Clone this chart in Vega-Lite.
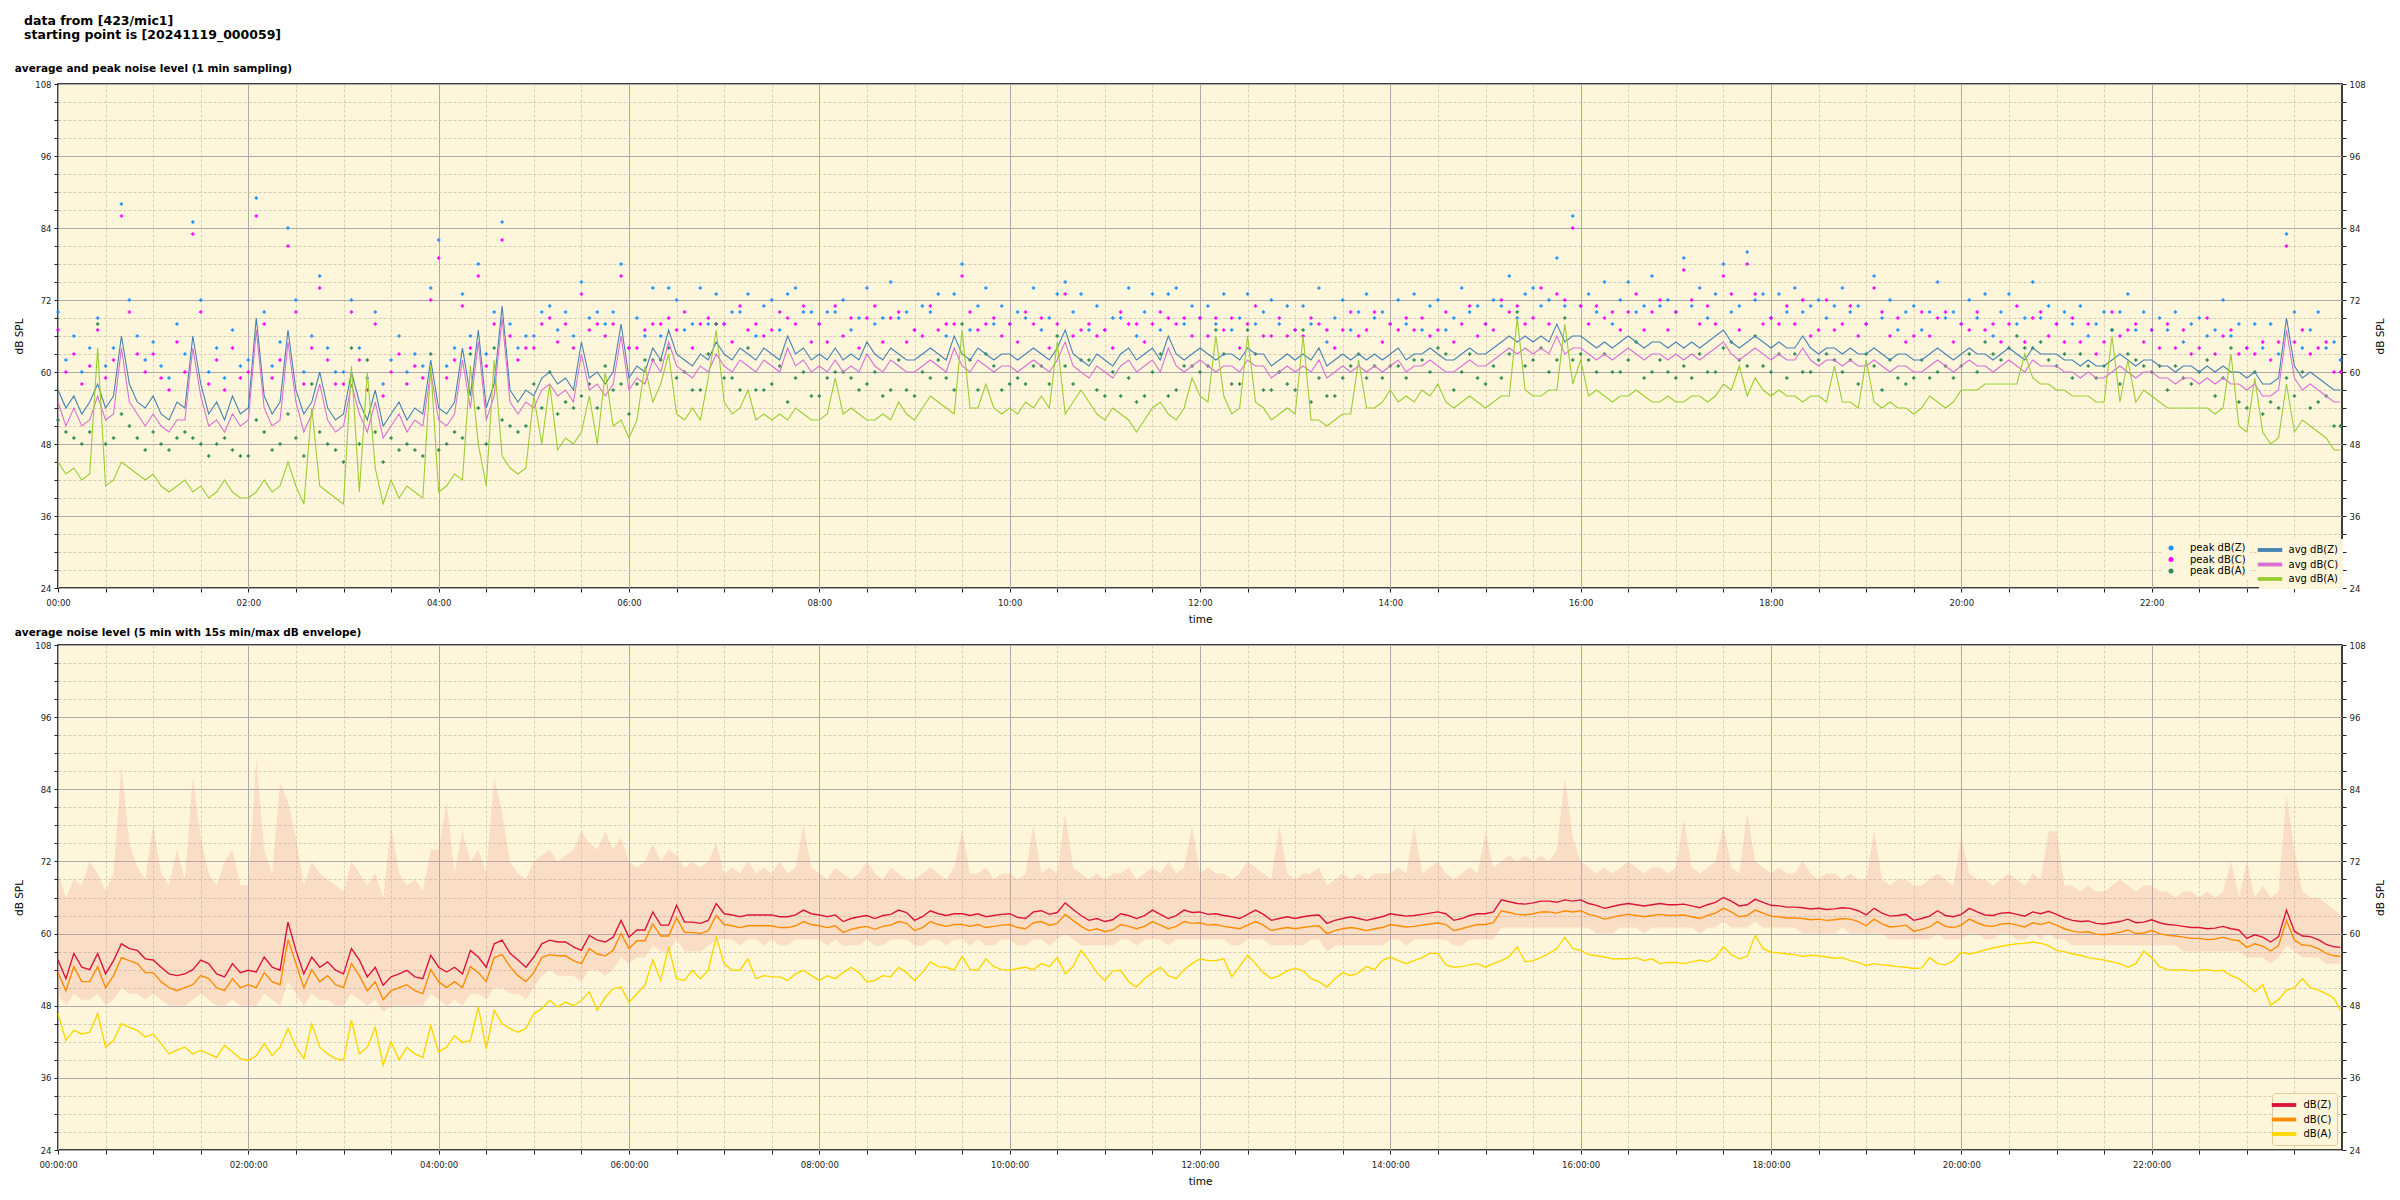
{
"$schema":"https://vega.github.io/schema/vega-lite/v6.json",
"padding":{"left":14,"top":14,"right":4,"bottom":2},
"background":"white",
"title":{"text":["data from [423/mic1]","starting point is [20241119_000059]"],"anchor":"start","frame":"bounds","dx":10,"font":"DejaVu Sans","fontSize":12.5,"fontWeight":"bold","color":"black","offset":21},
"data":{"values":[
{"m":0,"z":57,"c":55,"a":45,"pz":70,"pc":67,"pa":52,"bz":55.6,"bc":53.5,"ba":46.7,"lo":50,"hi":70},
{"m":5,"z":54,"c":51,"a":43,"pz":62,"pc":60,"pa":50,"bz":52.5,"bc":50.5,"ba":42.2,"lo":48,"hi":66},
{"m":10,"z":56,"c":54,"a":44,"pz":66,"pc":63,"pa":49,"bz":56.7,"bc":54.5,"ba":43.9,"lo":50,"hi":69},
{"m":15,"z":53,"c":51,"a":42,"pz":60,"pc":58,"pa":48,"bz":54.4,"bc":52,"ba":43.3,"lo":49,"hi":68},
{"m":20,"z":55,"c":52,"a":43,"pz":64,"pc":61,"pa":50,"bz":54,"bc":52,"ba":43.6,"lo":49,"hi":72},
{"m":25,"z":58,"c":56,"a":64,"pz":69,"pc":67,"pa":68,"bz":56.7,"bc":54.5,"ba":46.7,"lo":50,"hi":70},
{"m":30,"z":54,"c":52,"a":41,"pz":61,"pc":59,"pa":48,"bz":53.3,"bc":51,"ba":41.1,"lo":48,"hi":67},
{"m":35,"z":56,"c":53,"a":42,"pz":64,"pc":62,"pa":49,"bz":55.5,"bc":53,"ba":42.2,"lo":49,"hi":70},
{"m":40,"z":66,"c":64,"a":45,"pz":88,"pc":86,"pa":53,"bz":58.3,"bc":56,"ba":45,"lo":51,"hi":88},
{"m":45,"z":58,"c":55,"a":44,"pz":72,"pc":70,"pa":51,"bz":57.5,"bc":55.5,"ba":44.4,"lo":50,"hi":75},
{"m":50,"z":55,"c":53,"a":43,"pz":66,"pc":63,"pa":49,"bz":57.2,"bc":55,"ba":43.9,"lo":50,"hi":71},
{"m":55,"z":54,"c":51,"a":42,"pz":62,"pc":60,"pa":47,"bz":55.8,"bc":53.5,"ba":42.8,"lo":49,"hi":69},
{"m":60,"z":56,"c":53,"a":43,"pz":65,"pc":63,"pa":50,"bz":55.6,"bc":53.5,"ba":43.3,"lo":50,"hi":78},
{"m":65,"z":53,"c":51,"a":41,"pz":61,"pc":59,"pa":48,"bz":54.4,"bc":52,"ba":41.7,"lo":49,"hi":70},
{"m":70,"z":52,"c":50,"a":40,"pz":59,"pc":57,"pa":47,"bz":53.3,"bc":51,"ba":40,"lo":48,"hi":68},
{"m":75,"z":55,"c":52,"a":41,"pz":68,"pc":65,"pa":49,"bz":53,"bc":50.5,"ba":40.6,"lo":48,"hi":74},
{"m":80,"z":54,"c":52,"a":42,"pz":63,"pc":60,"pa":50,"bz":53.3,"bc":51,"ba":41.1,"lo":48,"hi":69},
{"m":85,"z":66,"c":64,"a":40,"pz":85,"pc":83,"pa":49,"bz":54,"bc":51.5,"ba":40,"lo":49,"hi":86},
{"m":90,"z":58,"c":56,"a":41,"pz":72,"pc":70,"pa":48,"bz":55.6,"bc":53,"ba":40.6,"lo":50,"hi":76},
{"m":95,"z":53,"c":51,"a":39,"pz":60,"pc":58,"pa":46,"bz":55,"bc":52.5,"ba":40,"lo":49,"hi":70},
{"m":100,"z":55,"c":52,"a":40,"pz":64,"pc":62,"pa":48,"bz":53.3,"bc":51,"ba":39.4,"lo":48,"hi":68},
{"m":105,"z":52,"c":50,"a":42,"pz":59,"pc":57,"pa":49,"bz":52.8,"bc":50.5,"ba":41.4,"lo":48,"hi":72},
{"m":110,"z":56,"c":53,"a":40,"pz":67,"pc":64,"pa":47,"bz":55,"bc":52.5,"ba":40.3,"lo":49,"hi":74},
{"m":115,"z":53,"c":51,"a":39,"pz":61,"pc":59,"pa":46,"bz":53.5,"bc":51,"ba":39.2,"lo":48,"hi":68},
{"m":120,"z":54,"c":52,"a":39,"pz":62,"pc":60,"pa":46,"bz":53.9,"bc":51.5,"ba":38.9,"lo":48,"hi":68},
{"m":125,"z":69,"c":67,"a":40,"pz":89,"pc":86,"pa":52,"bz":53.6,"bc":51,"ba":39.7,"lo":48,"hi":89},
{"m":130,"z":56,"c":54,"a":42,"pz":70,"pc":68,"pa":50,"bz":56.1,"bc":53.5,"ba":41.7,"lo":50,"hi":74},
{"m":135,"z":53,"c":51,"a":40,"pz":61,"pc":59,"pa":47,"bz":54.4,"bc":52,"ba":39.7,"lo":49,"hi":70},
{"m":140,"z":55,"c":52,"a":41,"pz":65,"pc":62,"pa":48,"bz":53.9,"bc":51.5,"ba":41.1,"lo":48,"hi":85},
{"m":145,"z":67,"c":65,"a":45,"pz":84,"pc":81,"pa":53,"bz":61.9,"bc":59,"ba":44.2,"lo":52,"hi":82},
{"m":150,"z":57,"c":55,"a":41,"pz":72,"pc":70,"pa":49,"bz":57.2,"bc":55,"ba":41.1,"lo":50,"hi":76},
{"m":155,"z":53,"c":50,"a":38,"pz":60,"pc":58,"pa":46,"bz":53.3,"bc":51,"ba":39.2,"lo":48,"hi":68},
{"m":160,"z":55,"c":53,"a":54,"pz":66,"pc":64,"pa":58,"bz":56.1,"bc":54,"ba":45,"lo":50,"hi":72},
{"m":165,"z":60,"c":58,"a":41,"pz":76,"pc":74,"pa":50,"bz":54.4,"bc":52,"ba":41.1,"lo":49,"hi":70},
{"m":170,"z":54,"c":52,"a":40,"pz":64,"pc":62,"pa":48,"bz":55.3,"bc":53,"ba":40,"lo":49,"hi":69},
{"m":175,"z":52,"c":50,"a":39,"pz":60,"pc":58,"pa":47,"bz":53.9,"bc":51.5,"ba":39.2,"lo":48,"hi":68},
{"m":180,"z":53,"c":51,"a":38,"pz":60,"pc":58,"pa":45,"bz":53.3,"bc":51,"ba":38.9,"lo":48,"hi":67},
{"m":185,"z":60,"c":58,"a":61,"pz":72,"pc":70,"pa":64,"bz":57.5,"bc":55,"ba":45.6,"lo":50,"hi":72},
{"m":190,"z":55,"c":53,"a":40,"pz":64,"pc":62,"pa":48,"bz":55.6,"bc":53,"ba":40,"lo":49,"hi":70},
{"m":195,"z":52,"c":50,"a":60,"pz":59,"pc":57,"pa":62,"bz":52.8,"bc":50.5,"ba":41.1,"lo":48,"hi":68},
{"m":200,"z":57,"c":55,"a":44,"pz":70,"pc":68,"pa":50,"bz":54.4,"bc":52,"ba":44.4,"lo":49,"hi":70},
{"m":205,"z":51,"c":49,"a":38,"pz":58,"pc":56,"pa":45,"bz":51.4,"bc":49,"ba":38.1,"lo":47,"hi":66},
{"m":210,"z":53,"c":51,"a":42,"pz":62,"pc":60,"pa":49,"bz":52.8,"bc":50.5,"ba":42,"lo":48,"hi":78},
{"m":215,"z":55,"c":53,"a":39,"pz":66,"pc":63,"pa":47,"bz":53.3,"bc":51,"ba":39,"lo":48,"hi":70},
{"m":220,"z":52,"c":50,"a":41,"pz":60,"pc":58,"pa":48,"bz":53.9,"bc":51.5,"ba":41.1,"lo":48,"hi":68},
{"m":225,"z":54,"c":52,"a":40,"pz":63,"pc":61,"pa":47,"bz":52.8,"bc":50.5,"ba":40,"lo":48,"hi":69},
{"m":230,"z":53,"c":51,"a":39,"pz":61,"pc":59,"pa":46,"bz":52.5,"bc":50,"ba":39.4,"lo":48,"hi":67},
{"m":235,"z":62,"c":60,"a":61,"pz":74,"pc":72,"pa":63,"bz":56.4,"bc":54,"ba":44.7,"lo":50,"hi":74},
{"m":240,"z":54,"c":52,"a":40,"pz":82,"pc":79,"pa":47,"bz":54.4,"bc":52,"ba":40.3,"lo":49,"hi":74},
{"m":245,"z":53,"c":51,"a":41,"pz":61,"pc":59,"pa":48,"bz":53.6,"bc":51,"ba":41.1,"lo":48,"hi":82},
{"m":250,"z":55,"c":53,"a":43,"pz":64,"pc":62,"pa":50,"bz":54.4,"bc":52,"ba":43,"lo":49,"hi":70},
{"m":255,"z":64,"c":62,"a":42,"pz":73,"pc":71,"pa":49,"bz":53.3,"bc":51,"ba":41.9,"lo":48,"hi":77},
{"m":260,"z":56,"c":54,"a":61,"pz":66,"pc":64,"pa":63,"bz":57.2,"bc":54.5,"ba":42.2,"lo":50,"hi":72},
{"m":265,"z":67,"c":65,"a":48,"pz":78,"pc":76,"pa":54,"bz":56.1,"bc":53.5,"ba":47.8,"lo":50,"hi":74},
{"m":270,"z":54,"c":52,"a":41,"pz":63,"pc":61,"pa":48,"bz":54.4,"bc":52,"ba":40.8,"lo":49,"hi":70},
{"m":275,"z":58,"c":56,"a":62,"pz":70,"pc":68,"pa":64,"bz":58.3,"bc":56,"ba":47.2,"lo":51,"hi":86},
{"m":280,"z":71,"c":69,"a":46,"pz":85,"pc":82,"pa":52,"bz":58.9,"bc":56.5,"ba":45,"lo":51,"hi":80},
{"m":285,"z":57,"c":55,"a":44,"pz":68,"pc":66,"pa":51,"bz":56.7,"bc":54.5,"ba":44.2,"lo":50,"hi":72},
{"m":290,"z":55,"c":53,"a":43,"pz":64,"pc":62,"pa":50,"bz":55.6,"bc":53,"ba":43.6,"lo":50,"hi":70},
{"m":295,"z":57,"c":55,"a":44,"pz":66,"pc":64,"pa":51,"bz":54.4,"bc":52,"ba":44.2,"lo":49,"hi":69},
{"m":300,"z":56,"c":54,"a":56,"pz":66,"pc":64,"pa":58,"bz":56.1,"bc":53.5,"ba":46.7,"lo":51,"hi":72},
{"m":305,"z":59,"c":57,"a":48,"pz":70,"pc":68,"pa":54,"bz":58.3,"bc":56,"ba":47.5,"lo":53,"hi":73},
{"m":310,"z":60,"c":58,"a":58,"pz":71,"pc":69,"pa":60,"bz":58.9,"bc":56.5,"ba":48.9,"lo":54,"hi":74},
{"m":315,"z":58,"c":56,"a":47,"pz":67,"pc":65,"pa":53,"bz":58.6,"bc":56.3,"ba":47.8,"lo":53,"hi":72},
{"m":320,"z":59,"c":57,"a":49,"pz":70,"pc":68,"pa":55,"bz":58.6,"bc":56.3,"ba":48.6,"lo":53,"hi":73},
{"m":325,"z":57,"c":55,"a":48,"pz":66,"pc":64,"pa":54,"bz":57.8,"bc":55.5,"ba":48,"lo":53,"hi":74},
{"m":330,"z":65,"c":63,"a":50,"pz":75,"pc":73,"pa":56,"bz":57.2,"bc":55,"ba":48.9,"lo":52,"hi":77},
{"m":335,"z":59,"c":57,"a":56,"pz":69,"pc":67,"pa":58,"bz":59.7,"bc":57.5,"ba":50.3,"lo":54,"hi":75},
{"m":340,"z":60,"c":58,"a":48,"pz":70,"pc":68,"pa":54,"bz":58.9,"bc":56.6,"ba":47.2,"lo":54,"hi":74},
{"m":345,"z":58,"c":56,"a":60,"pz":68,"pc":66,"pa":61,"bz":58.6,"bc":56.3,"ba":49.4,"lo":53,"hi":77},
{"m":350,"z":60,"c":58,"a":51,"pz":70,"pc":68,"pa":57,"bz":59.4,"bc":57.2,"ba":50.8,"lo":54,"hi":74},
{"m":355,"z":68,"c":66,"a":52,"pz":78,"pc":76,"pa":58,"bz":62.2,"bc":60,"ba":51.1,"lo":56,"hi":76},
{"m":360,"z":59,"c":57,"a":49,"pz":64,"pc":64,"pa":53,"bz":59.4,"bc":57.5,"ba":48.6,"lo":55,"hi":72},
{"m":365,"z":61,"c":59,"a":52,"pz":69,"pc":64,"pa":58,"bz":60.6,"bc":58.8,"ba":50,"lo":56,"hi":71},
{"m":370,"z":60,"c":58,"a":61,"pz":66,"pc":67,"pa":62,"bz":60.6,"bc":58.8,"ba":51.4,"lo":56,"hi":72},
{"m":375,"z":64,"c":62,"a":55,"pz":74,"pc":68,"pa":62,"bz":63.6,"bc":61.6,"ba":55.6,"lo":58,"hi":75},
{"m":380,"z":62,"c":60,"a":58,"pz":66,"pc":68,"pa":62,"bz":61.4,"bc":59.6,"ba":52.2,"lo":57,"hi":72},
{"m":385,"z":67,"c":65,"a":63,"pz":74,"pc":69,"pa":64,"bz":61.4,"bc":59.6,"ba":57.8,"lo":57,"hi":74},
{"m":390,"z":63,"c":61,"a":53,"pz":72,"pc":67,"pa":59,"bz":64.7,"bc":62.6,"ba":52.5,"lo":59,"hi":73},
{"m":395,"z":62,"c":60,"a":52,"pz":67,"pc":70,"pa":60,"bz":61.9,"bc":60.2,"ba":52.2,"lo":57,"hi":71},
{"m":400,"z":61,"c":59,"a":54,"pz":68,"pc":64,"pa":57,"bz":61.9,"bc":60.2,"ba":53.9,"lo":57,"hi":72},
{"m":405,"z":63,"c":61,"a":52,"pz":74,"pc":68,"pa":57,"bz":61.7,"bc":60,"ba":52.5,"lo":57,"hi":71},
{"m":410,"z":62,"c":60,"a":59,"pz":68,"pc":69,"pa":63,"bz":62.2,"bc":60.5,"ba":53.9,"lo":58,"hi":72},
{"m":415,"z":65,"c":63,"a":67,"pz":73,"pc":68,"pa":68,"bz":65,"bc":63,"ba":59.4,"lo":59,"hi":75},
{"m":420,"z":63,"c":61,"a":55,"pz":68,"pc":68,"pa":59,"bz":63.3,"bc":61.5,"ba":55,"lo":59,"hi":70},
{"m":425,"z":62,"c":60,"a":53,"pz":70,"pc":65,"pa":59,"bz":63.1,"bc":61.3,"ba":53.9,"lo":59,"hi":71},
{"m":430,"z":64,"c":62,"a":54,"pz":70,"pc":71,"pa":57,"bz":62.8,"bc":61,"ba":53.9,"lo":58,"hi":70},
{"m":435,"z":63,"c":61,"a":57,"pz":73,"pc":67,"pa":64,"bz":63.1,"bc":61.3,"ba":55.8,"lo":59,"hi":72},
{"m":440,"z":62,"c":60,"a":52,"pz":66,"pc":68,"pa":57,"bz":63.1,"bc":61.3,"ba":52.5,"lo":59,"hi":70},
{"m":445,"z":64,"c":62,"a":53,"pz":71,"pc":66,"pa":57,"bz":63.1,"bc":61.3,"ba":53,"lo":58,"hi":71},
{"m":450,"z":63,"c":61,"a":52,"pz":72,"pc":67,"pa":58,"bz":63.1,"bc":61.3,"ba":52.8,"lo":59,"hi":70},
{"m":455,"z":62,"c":60,"a":53,"pz":67,"pc":70,"pa":61,"bz":62.8,"bc":61,"ba":52.8,"lo":58,"hi":72},
{"m":460,"z":66,"c":64,"a":52,"pz":73,"pc":69,"pa":55,"bz":62.8,"bc":61,"ba":52.2,"lo":58,"hi":70},
{"m":465,"z":63,"c":61,"a":54,"pz":74,"pc":68,"pa":59,"bz":63.1,"bc":61.3,"ba":53.3,"lo":59,"hi":71},
{"m":470,"z":64,"c":62,"a":53,"pz":70,"pc":71,"pa":60,"bz":63.9,"bc":62,"ba":53.9,"lo":59,"hi":78},
{"m":475,"z":62,"c":60,"a":52,"pz":70,"pc":65,"pa":56,"bz":63.3,"bc":61.5,"ba":53,"lo":59,"hi":71},
{"m":480,"z":63,"c":61,"a":52,"pz":68,"pc":68,"pa":56,"bz":63.1,"bc":61.3,"ba":52.2,"lo":59,"hi":70},
{"m":485,"z":62,"c":60,"a":53,"pz":70,"pc":65,"pa":59,"bz":62.8,"bc":61,"ba":53,"lo":58,"hi":69},
{"m":490,"z":64,"c":62,"a":59,"pz":70,"pc":71,"pa":60,"bz":63.1,"bc":61.3,"ba":52.5,"lo":59,"hi":71},
{"m":495,"z":62,"c":60,"a":53,"pz":72,"pc":66,"pa":60,"bz":62,"bc":60.2,"ba":53.5,"lo":58,"hi":70},
{"m":500,"z":63,"c":61,"a":54,"pz":67,"pc":69,"pa":59,"bz":62.5,"bc":60.7,"ba":54.4,"lo":58,"hi":69},
{"m":505,"z":62,"c":60,"a":53,"pz":69,"pc":64,"pa":57,"bz":62.8,"bc":61,"ba":53.5,"lo":58,"hi":70},
{"m":510,"z":65,"c":63,"a":52,"pz":74,"pc":69,"pa":58,"bz":63,"bc":61.2,"ba":52,"lo":59,"hi":72},
{"m":515,"z":63,"c":61,"a":52,"pz":68,"pc":71,"pa":60,"bz":62.5,"bc":60.7,"ba":52.2,"lo":58,"hi":70},
{"m":520,"z":62,"c":60,"a":53,"pz":69,"pc":65,"pa":56,"bz":63,"bc":61.2,"ba":53,"lo":58,"hi":69},
{"m":525,"z":64,"c":62,"a":52,"pz":75,"pc":69,"pa":57,"bz":63.2,"bc":61.4,"ba":52.8,"lo":59,"hi":71},
{"m":530,"z":63,"c":61,"a":55,"pz":69,"pc":70,"pa":62,"bz":63.9,"bc":62,"ba":54.4,"lo":59,"hi":70},
{"m":535,"z":62,"c":60,"a":53,"pz":70,"pc":65,"pa":57,"bz":63.5,"bc":61.7,"ba":53.5,"lo":59,"hi":69},
{"m":540,"z":62,"c":60,"a":52,"pz":67,"pc":67,"pa":56,"bz":62.2,"bc":60.5,"ba":52.2,"lo":58,"hi":69},
{"m":545,"z":63,"c":61,"a":54,"pz":71,"pc":66,"pa":60,"bz":62.8,"bc":61,"ba":53.5,"lo":58,"hi":70},
{"m":550,"z":64,"c":62,"a":56,"pz":70,"pc":71,"pa":59,"bz":63.8,"bc":62,"ba":55.3,"lo":59,"hi":71},
{"m":555,"z":63,"c":61,"a":55,"pz":73,"pc":67,"pa":62,"bz":63.3,"bc":61.5,"ba":54.5,"lo":59,"hi":70},
{"m":560,"z":62,"c":60,"a":54,"pz":66,"pc":68,"pa":59,"bz":63,"bc":61.2,"ba":54.4,"lo":58,"hi":69},
{"m":565,"z":66,"c":64,"a":53,"pz":73,"pc":68,"pa":57,"bz":63.3,"bc":61.5,"ba":53.9,"lo":59,"hi":71},
{"m":570,"z":63,"c":61,"a":67,"pz":78,"pc":76,"pa":68,"bz":63.3,"bc":61.5,"ba":56.2,"lo":59,"hi":77},
{"m":575,"z":62,"c":60,"a":54,"pz":67,"pc":70,"pa":62,"bz":63,"bc":61.2,"ba":54,"lo":58,"hi":70},
{"m":580,"z":64,"c":62,"a":54,"pz":71,"pc":67,"pa":57,"bz":63.3,"bc":61.5,"ba":53.9,"lo":59,"hi":70},
{"m":585,"z":63,"c":61,"a":58,"pz":74,"pc":68,"pa":63,"bz":62.8,"bc":61,"ba":55.8,"lo":58,"hi":71},
{"m":590,"z":62,"c":60,"a":54,"pz":68,"pc":69,"pa":61,"bz":63,"bc":61.2,"ba":54.5,"lo":58,"hi":69},
{"m":595,"z":63,"c":61,"a":53,"pz":71,"pc":66,"pa":57,"bz":63.2,"bc":61.4,"ba":54,"lo":59,"hi":70},
{"m":600,"z":63,"c":61,"a":54,"pz":68,"pc":68,"pa":58,"bz":63.3,"bc":61.5,"ba":53.9,"lo":59,"hi":70},
{"m":605,"z":62,"c":60,"a":53,"pz":70,"pc":65,"pa":59,"bz":62.7,"bc":61,"ba":54.2,"lo":58,"hi":69},
{"m":610,"z":63,"c":61,"a":55,"pz":69,"pc":70,"pa":58,"bz":62.5,"bc":60.8,"ba":54.4,"lo":58,"hi":70},
{"m":615,"z":64,"c":62,"a":54,"pz":74,"pc":68,"pa":61,"bz":63.6,"bc":61.8,"ba":54,"lo":59,"hi":78},
{"m":620,"z":63,"c":61,"a":56,"pz":67,"pc":69,"pa":61,"bz":63.8,"bc":62,"ba":55,"lo":59,"hi":70},
{"m":625,"z":62,"c":60,"a":54,"pz":69,"pc":64,"pa":58,"bz":63.2,"bc":61.4,"ba":54.5,"lo":58,"hi":71},
{"m":630,"z":64,"c":62,"a":65,"pz":73,"pc":68,"pa":66,"bz":63.5,"bc":61.7,"ba":56,"lo":59,"hi":70},
{"m":635,"z":67,"c":65,"a":53,"pz":75,"pc":73,"pa":61,"bz":65.1,"bc":63.2,"ba":53.3,"lo":60,"hi":80},
{"m":640,"z":63,"c":61,"a":55,"pz":70,"pc":66,"pa":58,"bz":64,"bc":62.2,"ba":54.5,"lo":59,"hi":71},
{"m":645,"z":62,"c":60,"a":57,"pz":73,"pc":67,"pa":62,"bz":63,"bc":61.2,"ba":57.2,"lo":58,"hi":70},
{"m":650,"z":61,"c":59,"a":55,"pz":67,"pc":68,"pa":62,"bz":62.2,"bc":60.5,"ba":55.5,"lo":58,"hi":69},
{"m":655,"z":63,"c":61,"a":53,"pz":71,"pc":66,"pa":57,"bz":62.5,"bc":60.8,"ba":53.5,"lo":58,"hi":70},
{"m":660,"z":62,"c":60,"a":52,"pz":67,"pc":67,"pa":56,"bz":62,"bc":60.3,"ba":52.2,"lo":58,"hi":69},
{"m":665,"z":61,"c":59,"a":54,"pz":69,"pc":64,"pa":60,"bz":62.3,"bc":60.6,"ba":53.8,"lo":58,"hi":70},
{"m":670,"z":63,"c":61,"a":53,"pz":69,"pc":70,"pa":56,"bz":63.3,"bc":61.5,"ba":53.9,"lo":59,"hi":70},
{"m":675,"z":64,"c":62,"a":52,"pz":74,"pc":68,"pa":59,"bz":63,"bc":61.2,"ba":52,"lo":59,"hi":71},
{"m":680,"z":62,"c":60,"a":50,"pz":66,"pc":68,"pa":55,"bz":62.5,"bc":60.8,"ba":51.1,"lo":58,"hi":69},
{"m":685,"z":63,"c":61,"a":52,"pz":70,"pc":65,"pa":56,"bz":63,"bc":61.2,"ba":52.5,"lo":59,"hi":70},
{"m":690,"z":64,"c":62,"a":54,"pz":73,"pc":68,"pa":60,"bz":63.9,"bc":62,"ba":53.5,"lo":59,"hi":71},
{"m":695,"z":62,"c":60,"a":55,"pz":67,"pc":70,"pa":63,"bz":63.2,"bc":61.4,"ba":54.4,"lo":59,"hi":70},
{"m":700,"z":66,"c":64,"a":53,"pz":73,"pc":69,"pa":56,"bz":62.5,"bc":60.8,"ba":53,"lo":58,"hi":72},
{"m":705,"z":63,"c":61,"a":52,"pz":74,"pc":68,"pa":57,"bz":63,"bc":61.2,"ba":52.5,"lo":59,"hi":70},
{"m":710,"z":62,"c":60,"a":54,"pz":68,"pc":69,"pa":61,"bz":63.9,"bc":62,"ba":54,"lo":59,"hi":71},
{"m":715,"z":63,"c":61,"a":59,"pz":71,"pc":66,"pa":61,"bz":63.5,"bc":61.7,"ba":55,"lo":59,"hi":78},
{"m":720,"z":64,"c":62,"a":56,"pz":69,"pc":69,"pa":60,"bz":63.6,"bc":61.8,"ba":55.8,"lo":59,"hi":70},
{"m":725,"z":63,"c":61,"a":55,"pz":71,"pc":66,"pa":61,"bz":63.2,"bc":61.4,"ba":55.5,"lo":59,"hi":71},
{"m":730,"z":62,"c":60,"a":66,"pz":68,"pc":69,"pa":67,"bz":63.3,"bc":61.5,"ba":55.5,"lo":59,"hi":70},
{"m":735,"z":63,"c":61,"a":56,"pz":73,"pc":67,"pa":63,"bz":63,"bc":61.2,"ba":55.8,"lo":59,"hi":70},
{"m":740,"z":63,"c":61,"a":53,"pz":67,"pc":69,"pa":58,"bz":62.8,"bc":61,"ba":52.8,"lo":58,"hi":69},
{"m":745,"z":62,"c":60,"a":54,"pz":69,"pc":64,"pa":58,"bz":62.5,"bc":60.8,"ba":54.5,"lo":58,"hi":70},
{"m":750,"z":64,"c":62,"a":66,"pz":73,"pc":68,"pa":67,"bz":63.2,"bc":61.4,"ba":56.4,"lo":59,"hi":72},
{"m":755,"z":63,"c":61,"a":55,"pz":68,"pc":71,"pa":63,"bz":63.9,"bc":62,"ba":55,"lo":59,"hi":71},
{"m":760,"z":63,"c":61,"a":54,"pz":70,"pc":66,"pa":57,"bz":63.2,"bc":61.4,"ba":53.5,"lo":59,"hi":70},
{"m":765,"z":61,"c":59,"a":52,"pz":72,"pc":66,"pa":57,"bz":62.2,"bc":60.5,"ba":52.5,"lo":58,"hi":69},
{"m":770,"z":62,"c":60,"a":53,"pz":68,"pc":69,"pa":60,"bz":62.5,"bc":60.8,"ba":53,"lo":58,"hi":78},
{"m":775,"z":63,"c":61,"a":54,"pz":71,"pc":66,"pa":58,"bz":62.8,"bc":61,"ba":53.8,"lo":58,"hi":70},
{"m":780,"z":62,"c":60,"a":53,"pz":67,"pc":67,"pa":57,"bz":62.5,"bc":60.8,"ba":54.2,"lo":58,"hi":69},
{"m":785,"z":63,"c":61,"a":66,"pz":71,"pc":66,"pa":67,"bz":62.8,"bc":61,"ba":53.8,"lo":58,"hi":70},
{"m":790,"z":62,"c":60,"a":52,"pz":68,"pc":69,"pa":55,"bz":63,"bc":61.2,"ba":52.5,"lo":59,"hi":70},
{"m":795,"z":64,"c":62,"a":52,"pz":74,"pc":68,"pa":59,"bz":63.1,"bc":61.3,"ba":52,"lo":59,"hi":71},
{"m":800,"z":61,"c":59,"a":51,"pz":65,"pc":67,"pa":56,"bz":61.7,"bc":60,"ba":51.1,"lo":57,"hi":68},
{"m":805,"z":62,"c":60,"a":52,"pz":69,"pc":64,"pa":56,"bz":62.2,"bc":60.5,"ba":52.5,"lo":58,"hi":69},
{"m":810,"z":63,"c":61,"a":53,"pz":72,"pc":67,"pa":59,"bz":62.5,"bc":60.8,"ba":53.5,"lo":58,"hi":70},
{"m":815,"z":62,"c":60,"a":53,"pz":67,"pc":70,"pa":61,"bz":62.8,"bc":61,"ba":53,"lo":58,"hi":69},
{"m":820,"z":63,"c":61,"a":62,"pz":70,"pc":66,"pa":63,"bz":62.5,"bc":60.8,"ba":53.5,"lo":58,"hi":70},
{"m":825,"z":62,"c":60,"a":54,"pz":73,"pc":67,"pa":59,"bz":62.2,"bc":60.5,"ba":54.5,"lo":58,"hi":69},
{"m":830,"z":63,"c":61,"a":54,"pz":69,"pc":70,"pa":61,"bz":62.5,"bc":60.8,"ba":54,"lo":58,"hi":70},
{"m":835,"z":62,"c":60,"a":55,"pz":70,"pc":65,"pa":59,"bz":62.8,"bc":61,"ba":55.5,"lo":58,"hi":70},
{"m":840,"z":63,"c":61,"a":57,"pz":68,"pc":68,"pa":61,"bz":63.3,"bc":61.5,"ba":56.1,"lo":59,"hi":70},
{"m":845,"z":64,"c":62,"a":55,"pz":72,"pc":67,"pa":61,"bz":63.1,"bc":61.3,"ba":55.5,"lo":59,"hi":71},
{"m":850,"z":62,"c":60,"a":56,"pz":68,"pc":69,"pa":59,"bz":62.9,"bc":61.1,"ba":55,"lo":58,"hi":70},
{"m":855,"z":63,"c":61,"a":55,"pz":73,"pc":67,"pa":62,"bz":63,"bc":61.2,"ba":55.5,"lo":59,"hi":78},
{"m":860,"z":63,"c":61,"a":57,"pz":67,"pc":69,"pa":62,"bz":63.2,"bc":61.4,"ba":56,"lo":59,"hi":70},
{"m":865,"z":64,"c":62,"a":56,"pz":71,"pc":66,"pa":60,"bz":63.4,"bc":61.6,"ba":56.7,"lo":59,"hi":71},
{"m":870,"z":63,"c":61,"a":58,"pz":72,"pc":67,"pa":64,"bz":63.6,"bc":61.8,"ba":56.7,"lo":59,"hi":72},
{"m":875,"z":62,"c":60,"a":55,"pz":67,"pc":70,"pa":63,"bz":63.3,"bc":61.5,"ba":54.8,"lo":59,"hi":70},
{"m":880,"z":62,"c":60,"a":54,"pz":69,"pc":65,"pa":57,"bz":62.2,"bc":60.5,"ba":54.4,"lo":58,"hi":69},
{"m":885,"z":63,"c":61,"a":55,"pz":74,"pc":68,"pa":60,"bz":62.5,"bc":60.8,"ba":54.5,"lo":58,"hi":70},
{"m":890,"z":64,"c":62,"a":56,"pz":70,"pc":71,"pa":63,"bz":63,"bc":61.2,"ba":54.8,"lo":59,"hi":71},
{"m":895,"z":63,"c":61,"a":55,"pz":71,"pc":66,"pa":59,"bz":63.3,"bc":61.5,"ba":55,"lo":59,"hi":70},
{"m":900,"z":63,"c":61,"a":54,"pz":68,"pc":68,"pa":58,"bz":63.3,"bc":61.5,"ba":54.4,"lo":59,"hi":77},
{"m":905,"z":64,"c":62,"a":55,"pz":72,"pc":67,"pa":61,"bz":63.6,"bc":61.8,"ba":55,"lo":59,"hi":71},
{"m":910,"z":65,"c":63,"a":56,"pz":71,"pc":72,"pa":59,"bz":65.6,"bc":63.8,"ba":55.5,"lo":61,"hi":72},
{"m":915,"z":66,"c":64,"a":56,"pz":76,"pc":70,"pa":63,"bz":65.3,"bc":63.5,"ba":56.2,"lo":61,"hi":73},
{"m":920,"z":65,"c":63,"a":69,"pz":69,"pc":71,"pa":70,"bz":65,"bc":63.2,"ba":57.8,"lo":61,"hi":72},
{"m":925,"z":66,"c":64,"a":57,"pz":73,"pc":68,"pa":61,"bz":64.9,"bc":63.1,"ba":55.3,"lo":61,"hi":73},
{"m":930,"z":65,"c":63,"a":56,"pz":74,"pc":69,"pa":62,"bz":65.1,"bc":63.3,"ba":55.5,"lo":61,"hi":72},
{"m":935,"z":66,"c":64,"a":56,"pz":71,"pc":74,"pa":64,"bz":65.4,"bc":63.6,"ba":56,"lo":61,"hi":73},
{"m":940,"z":65,"c":63,"a":57,"pz":72,"pc":68,"pa":60,"bz":65.4,"bc":63.6,"ba":56.7,"lo":61,"hi":72},
{"m":945,"z":68,"c":66,"a":57,"pz":79,"pc":73,"pa":62,"bz":65.2,"bc":63.4,"ba":57.5,"lo":61,"hi":74},
{"m":950,"z":65,"c":63,"a":68,"pz":71,"pc":72,"pa":69,"bz":65.6,"bc":63.8,"ba":59.4,"lo":61,"hi":86},
{"m":955,"z":66,"c":64,"a":58,"pz":86,"pc":84,"pa":62,"bz":65.4,"bc":63.6,"ba":57.5,"lo":61,"hi":76},
{"m":960,"z":66,"c":64,"a":62,"pz":71,"pc":71,"pa":63,"bz":65.6,"bc":63.8,"ba":57.2,"lo":61,"hi":72},
{"m":965,"z":65,"c":63,"a":56,"pz":73,"pc":68,"pa":62,"bz":65,"bc":63.2,"ba":56.5,"lo":61,"hi":71},
{"m":970,"z":64,"c":62,"a":57,"pz":70,"pc":71,"pa":60,"bz":64.7,"bc":62.9,"ba":56.3,"lo":60,"hi":70},
{"m":975,"z":65,"c":63,"a":56,"pz":75,"pc":69,"pa":63,"bz":64.2,"bc":62.4,"ba":56.1,"lo":60,"hi":71},
{"m":980,"z":64,"c":62,"a":55,"pz":68,"pc":70,"pa":60,"bz":64.5,"bc":62.7,"ba":55.8,"lo":60,"hi":70},
{"m":985,"z":65,"c":63,"a":56,"pz":72,"pc":67,"pa":60,"bz":64.8,"bc":63,"ba":55.8,"lo":61,"hi":71},
{"m":990,"z":66,"c":64,"a":56,"pz":75,"pc":70,"pa":62,"bz":65,"bc":63.2,"ba":55.8,"lo":61,"hi":72},
{"m":995,"z":65,"c":63,"a":57,"pz":70,"pc":73,"pa":65,"bz":64.8,"bc":63,"ba":56,"lo":61,"hi":71},
{"m":1000,"z":64,"c":62,"a":56,"pz":71,"pc":67,"pa":59,"bz":64.6,"bc":62.8,"ba":55.5,"lo":60,"hi":70},
{"m":1005,"z":65,"c":63,"a":55,"pz":76,"pc":70,"pa":60,"bz":64.8,"bc":63,"ba":55.8,"lo":61,"hi":71},
{"m":1010,"z":65,"c":63,"a":55,"pz":71,"pc":72,"pa":62,"bz":65,"bc":63.2,"ba":55,"lo":61,"hi":71},
{"m":1015,"z":64,"c":62,"a":56,"pz":72,"pc":67,"pa":60,"bz":64.8,"bc":63,"ba":55.2,"lo":61,"hi":70},
{"m":1020,"z":65,"c":63,"a":55,"pz":70,"pc":70,"pa":59,"bz":64.8,"bc":63,"ba":55.2,"lo":61,"hi":71},
{"m":1025,"z":64,"c":62,"a":55,"pz":79,"pc":77,"pa":61,"bz":64.9,"bc":63.1,"ba":55,"lo":61,"hi":79},
{"m":1030,"z":65,"c":63,"a":56,"pz":71,"pc":72,"pa":59,"bz":64.6,"bc":62.8,"ba":55.3,"lo":61,"hi":71},
{"m":1035,"z":64,"c":62,"a":56,"pz":74,"pc":68,"pa":63,"bz":64.3,"bc":62.5,"ba":55.6,"lo":60,"hi":70},
{"m":1040,"z":65,"c":63,"a":55,"pz":69,"pc":71,"pa":60,"bz":64.8,"bc":63,"ba":55.3,"lo":61,"hi":71},
{"m":1045,"z":66,"c":64,"a":56,"pz":73,"pc":68,"pa":60,"bz":65.2,"bc":63.4,"ba":56,"lo":61,"hi":72},
{"m":1050,"z":67,"c":65,"a":58,"pz":78,"pc":76,"pa":64,"bz":66,"bc":64.2,"ba":57.8,"lo":62,"hi":78},
{"m":1055,"z":65,"c":63,"a":57,"pz":70,"pc":73,"pa":65,"bz":65.4,"bc":63.6,"ba":56.5,"lo":61,"hi":71},
{"m":1060,"z":64,"c":62,"a":61,"pz":71,"pc":67,"pa":62,"bz":64.6,"bc":62.8,"ba":55.8,"lo":61,"hi":70},
{"m":1065,"z":65,"c":63,"a":56,"pz":80,"pc":78,"pa":61,"bz":64.8,"bc":63,"ba":56.2,"lo":61,"hi":80},
{"m":1070,"z":66,"c":64,"a":59,"pz":72,"pc":73,"pa":66,"bz":65.7,"bc":63.9,"ba":59.7,"lo":62,"hi":72},
{"m":1075,"z":65,"c":63,"a":57,"pz":73,"pc":68,"pa":61,"bz":65.2,"bc":63.4,"ba":57.5,"lo":61,"hi":71},
{"m":1080,"z":64,"c":62,"a":56,"pz":69,"pc":69,"pa":60,"bz":64.7,"bc":62.9,"ba":56.9,"lo":61,"hi":70},
{"m":1085,"z":65,"c":63,"a":57,"pz":73,"pc":68,"pa":63,"bz":64.6,"bc":62.8,"ba":56.8,"lo":61,"hi":71},
{"m":1090,"z":64,"c":62,"a":56,"pz":70,"pc":71,"pa":59,"bz":64.4,"bc":62.6,"ba":56.6,"lo":61,"hi":70},
{"m":1095,"z":64,"c":62,"a":56,"pz":74,"pc":68,"pa":63,"bz":64.4,"bc":62.6,"ba":56.5,"lo":61,"hi":70},
{"m":1100,"z":66,"c":64,"a":55,"pz":70,"pc":72,"pa":60,"bz":64.3,"bc":62.5,"ba":56.2,"lo":60,"hi":72},
{"m":1105,"z":64,"c":62,"a":56,"pz":71,"pc":66,"pa":60,"bz":64.1,"bc":62.3,"ba":56.4,"lo":60,"hi":70},
{"m":1110,"z":63,"c":61,"a":56,"pz":72,"pc":67,"pa":62,"bz":64.2,"bc":62.4,"ba":56.3,"lo":60,"hi":69},
{"m":1115,"z":64,"c":62,"a":55,"pz":69,"pc":72,"pa":63,"bz":64,"bc":62.2,"ba":56.1,"lo":60,"hi":70},
{"m":1120,"z":64,"c":62,"a":61,"pz":71,"pc":67,"pa":62,"bz":64.1,"bc":62.3,"ba":55.9,"lo":60,"hi":70},
{"m":1125,"z":63,"c":61,"a":55,"pz":74,"pc":68,"pa":60,"bz":64.3,"bc":62.5,"ba":56,"lo":61,"hi":69},
{"m":1130,"z":64,"c":62,"a":55,"pz":70,"pc":71,"pa":62,"bz":64.2,"bc":62.4,"ba":55.5,"lo":60,"hi":70},
{"m":1135,"z":63,"c":61,"a":54,"pz":71,"pc":66,"pa":58,"bz":63.8,"bc":62,"ba":55.2,"lo":60,"hi":69},
{"m":1140,"z":63,"c":61,"a":62,"pz":68,"pc":68,"pa":63,"bz":63.1,"bc":61.3,"ba":54.7,"lo":60,"hi":69},
{"m":1145,"z":64,"c":62,"a":55,"pz":76,"pc":74,"pa":61,"bz":64.2,"bc":62.4,"ba":55,"lo":60,"hi":77},
{"m":1150,"z":63,"c":61,"a":54,"pz":69,"pc":70,"pa":57,"bz":63.4,"bc":61.6,"ba":54.8,"lo":60,"hi":69},
{"m":1155,"z":62,"c":60,"a":55,"pz":72,"pc":66,"pa":62,"bz":62.9,"bc":61.1,"ba":54.7,"lo":59,"hi":68},
{"m":1160,"z":63,"c":61,"a":54,"pz":67,"pc":69,"pa":59,"bz":63,"bc":61.2,"ba":54.5,"lo":59,"hi":69},
{"m":1165,"z":63,"c":61,"a":54,"pz":70,"pc":65,"pa":58,"bz":63.2,"bc":61.4,"ba":54.4,"lo":59,"hi":69},
{"m":1170,"z":62,"c":60,"a":53,"pz":71,"pc":66,"pa":59,"bz":62.2,"bc":60.4,"ba":54.2,"lo":59,"hi":68},
{"m":1175,"z":62,"c":60,"a":54,"pz":67,"pc":70,"pa":62,"bz":62.5,"bc":60.7,"ba":54.3,"lo":59,"hi":68},
{"m":1180,"z":63,"c":61,"a":56,"pz":70,"pc":66,"pa":59,"bz":62.9,"bc":61.1,"ba":56,"lo":59,"hi":69},
{"m":1185,"z":64,"c":62,"a":55,"pz":75,"pc":69,"pa":60,"bz":63.8,"bc":62,"ba":55,"lo":60,"hi":70},
{"m":1190,"z":63,"c":61,"a":54,"pz":69,"pc":70,"pa":61,"bz":63,"bc":61.2,"ba":54.8,"lo":59,"hi":69},
{"m":1195,"z":62,"c":60,"a":55,"pz":70,"pc":65,"pa":59,"bz":62.8,"bc":61,"ba":55.5,"lo":59,"hi":68},
{"m":1200,"z":63,"c":61,"a":57,"pz":68,"pc":68,"pa":61,"bz":63.2,"bc":61.4,"ba":56.9,"lo":59,"hi":76},
{"m":1205,"z":64,"c":62,"a":57,"pz":72,"pc":67,"pa":63,"bz":64.2,"bc":62.4,"ba":56.6,"lo":60,"hi":70},
{"m":1210,"z":63,"c":61,"a":57,"pz":69,"pc":70,"pa":60,"bz":63.6,"bc":61.8,"ba":56.9,"lo":60,"hi":69},
{"m":1215,"z":63,"c":61,"a":58,"pz":73,"pc":67,"pa":65,"bz":63.1,"bc":61.3,"ba":57.3,"lo":59,"hi":69},
{"m":1220,"z":62,"c":60,"a":58,"pz":66,"pc":68,"pa":63,"bz":63,"bc":61.2,"ba":57.6,"lo":59,"hi":68},
{"m":1225,"z":63,"c":61,"a":58,"pz":70,"pc":65,"pa":62,"bz":63.4,"bc":61.6,"ba":57.9,"lo":60,"hi":69},
{"m":1230,"z":64,"c":62,"a":58,"pz":73,"pc":68,"pa":64,"bz":63.5,"bc":61.7,"ba":58.1,"lo":60,"hi":70},
{"m":1235,"z":63,"c":61,"a":58,"pz":68,"pc":71,"pa":66,"bz":63.2,"bc":61.4,"ba":58.3,"lo":59,"hi":69},
{"m":1240,"z":62,"c":60,"a":63,"pz":69,"pc":65,"pa":64,"bz":62.9,"bc":61.1,"ba":58.4,"lo":59,"hi":68},
{"m":1245,"z":64,"c":62,"a":59,"pz":75,"pc":69,"pa":64,"bz":63.6,"bc":61.8,"ba":58.6,"lo":60,"hi":70},
{"m":1250,"z":63,"c":61,"a":58,"pz":69,"pc":70,"pa":65,"bz":63.3,"bc":61.5,"ba":58.4,"lo":59,"hi":69},
{"m":1255,"z":63,"c":61,"a":58,"pz":71,"pc":66,"pa":62,"bz":63.7,"bc":61.9,"ba":58,"lo":60,"hi":77},
{"m":1260,"z":63,"c":61,"a":57,"pz":68,"pc":68,"pa":61,"bz":63.2,"bc":61.4,"ba":57.2,"lo":59,"hi":77},
{"m":1265,"z":62,"c":60,"a":57,"pz":70,"pc":65,"pa":63,"bz":62.6,"bc":60.8,"ba":57,"lo":59,"hi":68},
{"m":1270,"z":62,"c":60,"a":56,"pz":68,"pc":69,"pa":59,"bz":62.2,"bc":60.4,"ba":56.6,"lo":58,"hi":68},
{"m":1275,"z":61,"c":59,"a":56,"pz":71,"pc":65,"pa":63,"bz":62,"bc":60.2,"ba":56.4,"lo":58,"hi":67},
{"m":1280,"z":62,"c":60,"a":56,"pz":66,"pc":68,"pa":61,"bz":62.1,"bc":60.3,"ba":56,"lo":58,"hi":68},
{"m":1285,"z":61,"c":59,"a":55,"pz":68,"pc":63,"pa":59,"bz":61.7,"bc":59.9,"ba":55.8,"lo":58,"hi":67},
{"m":1290,"z":61,"c":59,"a":55,"pz":70,"pc":65,"pa":61,"bz":61.6,"bc":59.8,"ba":55.6,"lo":58,"hi":67},
{"m":1295,"z":62,"c":60,"a":66,"pz":67,"pc":70,"pa":67,"bz":61.8,"bc":60,"ba":55.3,"lo":58,"hi":68},
{"m":1300,"z":63,"c":61,"a":55,"pz":70,"pc":66,"pa":58,"bz":62,"bc":60.2,"ba":55,"lo":58,"hi":69},
{"m":1305,"z":62,"c":60,"a":62,"pz":73,"pc":67,"pa":63,"bz":62.4,"bc":60.6,"ba":54.4,"lo":58,"hi":68},
{"m":1310,"z":61,"c":59,"a":55,"pz":67,"pc":68,"pa":62,"bz":61.8,"bc":60,"ba":55,"lo":58,"hi":67},
{"m":1315,"z":62,"c":60,"a":57,"pz":70,"pc":65,"pa":61,"bz":61.9,"bc":60.1,"ba":57.1,"lo":58,"hi":68},
{"m":1320,"z":62,"c":60,"a":56,"pz":67,"pc":67,"pa":60,"bz":62.3,"bc":60.5,"ba":56,"lo":58,"hi":68},
{"m":1325,"z":61,"c":59,"a":55,"pz":69,"pc":64,"pa":61,"bz":61.8,"bc":60,"ba":54.5,"lo":58,"hi":67},
{"m":1330,"z":61,"c":59,"a":54,"pz":67,"pc":68,"pa":57,"bz":61.5,"bc":59.7,"ba":54,"lo":58,"hi":67},
{"m":1335,"z":60,"c":58,"a":54,"pz":70,"pc":64,"pa":61,"bz":61.4,"bc":59.6,"ba":53.9,"lo":58,"hi":66},
{"m":1340,"z":61,"c":59,"a":54,"pz":65,"pc":67,"pa":59,"bz":61.2,"bc":59.4,"ba":54,"lo":57,"hi":67},
{"m":1345,"z":61,"c":59,"a":54,"pz":68,"pc":63,"pa":58,"bz":61,"bc":59.2,"ba":53.8,"lo":57,"hi":67},
{"m":1350,"z":60,"c":58,"a":54,"pz":69,"pc":64,"pa":60,"bz":61,"bc":59.2,"ba":53.9,"lo":57,"hi":66},
{"m":1355,"z":61,"c":59,"a":54,"pz":66,"pc":69,"pa":62,"bz":60.8,"bc":59,"ba":54,"lo":57,"hi":67},
{"m":1360,"z":60,"c":58,"a":53,"pz":67,"pc":63,"pa":56,"bz":60.9,"bc":59.1,"ba":53.8,"lo":57,"hi":66},
{"m":1365,"z":61,"c":59,"a":54,"pz":72,"pc":66,"pa":59,"bz":61.2,"bc":59.4,"ba":53.9,"lo":57,"hi":67},
{"m":1370,"z":60,"c":58,"a":63,"pz":66,"pc":67,"pa":64,"bz":60.8,"bc":59,"ba":53,"lo":57,"hi":72},
{"m":1375,"z":60,"c":58,"a":51,"pz":68,"pc":63,"pa":55,"bz":60.6,"bc":58.8,"ba":52.5,"lo":57,"hi":66},
{"m":1380,"z":59,"c":57,"a":50,"pz":64,"pc":64,"pa":54,"bz":59.2,"bc":57.7,"ba":51.5,"lo":56,"hi":72},
{"m":1385,"z":60,"c":58,"a":59,"pz":68,"pc":63,"pa":60,"bz":59.8,"bc":58.3,"ba":50.3,"lo":56,"hi":66},
{"m":1390,"z":58,"c":56,"a":50,"pz":64,"pc":65,"pa":53,"bz":59.4,"bc":57.9,"ba":51.5,"lo":56,"hi":68},
{"m":1395,"z":58,"c":56,"a":48,"pz":68,"pc":62,"pa":55,"bz":58.6,"bc":57.1,"ba":48.1,"lo":55,"hi":66},
{"m":1400,"z":59,"c":57,"a":49,"pz":63,"pc":65,"pa":54,"bz":59.5,"bc":58,"ba":49,"lo":56,"hi":67},
{"m":1405,"z":69,"c":67,"a":58,"pz":83,"pc":81,"pa":59,"bz":63.9,"bc":62.2,"ba":50.6,"lo":58,"hi":83},
{"m":1410,"z":61,"c":59,"a":50,"pz":70,"pc":65,"pa":56,"bz":60.4,"bc":58.9,"ba":51,"lo":57,"hi":74},
{"m":1415,"z":59,"c":57,"a":52,"pz":64,"pc":67,"pa":60,"bz":59.6,"bc":58.1,"ba":52.5,"lo":56,"hi":67},
{"m":1420,"z":60,"c":58,"a":51,"pz":67,"pc":63,"pa":54,"bz":59.5,"bc":58,"ba":51,"lo":56,"hi":66},
{"m":1425,"z":59,"c":57,"a":50,"pz":70,"pc":64,"pa":55,"bz":59,"bc":57.5,"ba":50.6,"lo":56,"hi":66},
{"m":1430,"z":58,"c":56,"a":49,"pz":64,"pc":65,"pa":56,"bz":58.2,"bc":56.7,"ba":50,"lo":55,"hi":65},
{"m":1435,"z":57,"c":55,"a":47,"pz":65,"pc":60,"pa":51,"bz":57.8,"bc":56.3,"ba":49.2,"lo":55,"hi":64},
{"m":1439,"z":57,"c":55,"a":47,"pz":62,"pc":60,"pa":51,"bz":57.7,"bc":56.2,"ba":47.2,"lo":55,"hi":63}
]},
"spacing":0,
"resolve":{"scale":{"color":"independent","stroke":"independent"}},
"vconcat":[
{
"width":2284,"height":504,
"title":{"text":"average and peak noise level (1 min sampling)","anchor":"start","font":"DejaVu Sans","fontSize":10.5,"fontWeight":"bold","color":"black","offset":6},
"resolve":{"axis":{"x":"independent","y":"independent"}},
"layer":[
{"transform":[{"fold":["pz","pc","pa"],"as":["pk","pv"]}],
"mark":{"type":"point","shape":"cross","filled":true,"size":12,"opacity":1},
"encoding":{
"x":{"field":"m","type":"quantitative","scale":{"domain":[0,1440],"nice":false,"zero":false},"axis":{"orient":"bottom","values":[30,60,90,150,180,210,270,300,330,390,420,450,510,540,570,630,660,690,750,780,810,870,900,930,990,1020,1050,1110,1140,1170,1230,1260,1290,1350,1380,1410],"labels":false,"grid":true,"gridColor":"#cfc6ad","gridDash":[3,2],"gridWidth":0.8,"tickSize":4,"title":null}},
"y":{"field":"pv","type":"quantitative","scale":{"domain":[24,108],"nice":false,"zero":false},"axis":{"orient":"left","values":[27,30,33,39,42,45,51,54,57,63,66,69,75,78,81,87,90,93,99,102,105],"labels":false,"grid":true,"gridColor":"#c9c1ad","gridDash":[3,2],"gridWidth":0.8,"tickSize":4,"title":null}},
"color":{"field":"pk","type":"nominal","scale":{"domain":["pz","pc","pa"],"range":["#1e90ff","#ff00ff","#2e8b57"]},"legend":{"title":null,"orient":"none","legendX":2104,"legendY":455,"labelExpr":"datum.label=='pz'?'peak dB(Z)':datum.label=='pc'?'peak dB(C)':'peak dB(A)'","symbolType":"circle","symbolSize":25,"labelFontSize":10,"rowPadding":1.5,"padding":4,"labelOffset":14,"fillColor":"#fef6da"}}
}},
{"transform":[{"fold":["z","c","a"],"as":["ak","av"]}],
"mark":{"type":"line","strokeWidth":1.1},
"encoding":{
"x":{"field":"m","type":"quantitative","scale":{"domain":[0,1440],"nice":false,"zero":false},"axis":{"orient":"bottom","values":[0,120,240,360,480,600,720,840,960,1080,1200,1320],"labelExpr":"(datum.value < 600 ? '0' : '') + (datum.value/60) + ':00'","labelFlush":false,"labelOverlap":false,"grid":true,"gridColor":"#ababab","gridWidth":1,"tickSize":4,"labelPadding":6,"title":"time","titlePadding":8}},
"y":{"field":"av","type":"quantitative","scale":{"domain":[24,108],"nice":false,"zero":false},"axis":{"orient":"left","values":[24,36,48,60,72,84,96,108],"grid":true,"gridColor":"#ababab","gridWidth":1,"tickSize":4,"labelPadding":3,"title":"dB SPL","titlePadding":10}},
"stroke":{"field":"ak","type":"nominal","scale":{"domain":["z","c","a"],"range":["#4682b4","#da70d6","#9acd32"]},"legend":{"title":null,"orient":"none","legendX":2201,"legendY":455,"labelExpr":"datum.label=='z'?'avg dB(Z)':datum.label=='c'?'avg dB(C)':'avg dB(A)'","symbolType":"M-2,-0.12L2,-0.12L2,0.12L-2,0.12Z","symbolSize":121,"symbolStrokeWidth":2.5,"labelFontSize":10,"rowPadding":1.5,"padding":4,"labelOffset":11.5,"fillColor":"#fef6da"}}
}},
{"mark":{"type":"point","opacity":0},
"encoding":{
"x":{"field":"m","type":"quantitative","axis":null},
"y":{"field":"z","type":"quantitative","scale":{"domain":[24,108],"nice":false,"zero":false},"axis":{"orient":"right","values":[24,27,30,33,36,39,42,45,48,51,54,57,60,63,66,69,72,75,78,81,84,87,90,93,96,99,102,105,108],"labelExpr":"datum.value % 12 == 0 ? datum.label : ''","grid":false,"tickSize":4,"labelPadding":3,"title":"dB SPL","titlePadding":10,"titleAngle":270,"titleBaseline":"top"}}
}}
]
},
{
"width":2284,"height":505,
"title":{"text":"average noise level (5 min with 15s min/max dB envelope)","anchor":"start","font":"DejaVu Sans","fontSize":10.5,"fontWeight":"bold","color":"black","offset":3},
"resolve":{"axis":{"x":"independent","y":"independent"}},
"layer":[
{"mark":{"type":"area","color":"#f09080","opacity":0.24},
"encoding":{
"x":{"field":"m","type":"quantitative","scale":{"domain":[0,1440],"nice":false,"zero":false},"axis":{"orient":"bottom","values":[30,60,90,150,180,210,270,300,330,390,420,450,510,540,570,630,660,690,750,780,810,870,900,930,990,1020,1050,1110,1140,1170,1230,1260,1290,1350,1380,1410],"labels":false,"grid":true,"gridColor":"#cfc6ad","gridDash":[3,2],"gridWidth":0.8,"tickSize":4,"title":null}},
"y":{"field":"lo","type":"quantitative","scale":{"domain":[24,108],"nice":false,"zero":false},"axis":{"orient":"left","values":[27,30,33,39,42,45,51,54,57,63,66,69,75,78,81,87,90,93,99,102,105],"labels":false,"grid":true,"gridColor":"#c9c1ad","gridDash":[3,2],"gridWidth":0.8,"tickSize":4,"title":null}},
"y2":{"field":"hi"}
}},
{"transform":[{"fold":["bz","bc","ba"],"as":["bk","bv"]}],
"mark":{"type":"line","strokeWidth":1.4},
"encoding":{
"x":{"field":"m","type":"quantitative","scale":{"domain":[0,1440],"nice":false,"zero":false},"axis":{"orient":"bottom","values":[0,120,240,360,480,600,720,840,960,1080,1200,1320],"labelExpr":"(datum.value < 600 ? '0' : '') + (datum.value/60) + ':00:00'","labelFlush":false,"labelOverlap":false,"grid":true,"gridColor":"#ababab","gridWidth":1,"tickSize":4,"labelPadding":6,"title":"time","titlePadding":8}},
"y":{"field":"bv","type":"quantitative","scale":{"domain":[24,108],"nice":false,"zero":false},"axis":{"orient":"left","values":[24,36,48,60,72,84,96,108],"grid":true,"gridColor":"#ababab","gridWidth":1,"tickSize":4,"labelPadding":3,"title":"dB SPL","titlePadding":10}},
"stroke":{"field":"bk","type":"nominal","scale":{"domain":["bz","bc","ba"],"range":["#dc143c","#ff8c00","#ffd700"]},"legend":{"title":null,"orient":"bottom-right","offset":5,"labelExpr":"datum.label=='bz'?'dB(Z)':datum.label=='bc'?'dB(C)':'dB(A)'","symbolType":"M-2,-0.12L2,-0.12L2,0.12L-2,0.12Z","symbolSize":121,"symbolStrokeWidth":2.5,"labelFontSize":10,"rowPadding":1.5,"padding":5,"labelOffset":12.5,"fillColor":"#fef6da","strokeColor":"#e3c99b","cornerRadius":3}}
}},
{"mark":{"type":"point","opacity":0},
"encoding":{
"x":{"field":"m","type":"quantitative","axis":null},
"y":{"field":"bz","type":"quantitative","scale":{"domain":[24,108],"nice":false,"zero":false},"axis":{"orient":"right","values":[24,27,30,33,36,39,42,45,48,51,54,57,60,63,66,69,72,75,78,81,84,87,90,93,96,99,102,105,108],"labelExpr":"datum.value % 12 == 0 ? datum.label : ''","grid":false,"tickSize":4,"labelPadding":3,"title":"dB SPL","titlePadding":10,"titleAngle":270,"titleBaseline":"top"}}
}}
]
}
],
"config":{
"font":"DejaVu Sans",
"view":{"fill":"#fef6da","stroke":"black","strokeWidth":1.5},
"axis":{"labelFont":"DejaVu Sans","labelFontSize":8.5,"labelColor":"#222222","titleFont":"DejaVu Sans","titleFontSize":10.5,"titleFontWeight":"normal","titleColor":"black","tickColor":"#222222","domain":false},
"legend":{"labelFont":"DejaVu Sans","labelFontSize":10,"labelColor":"black"},
"title":{"font":"DejaVu Sans","color":"black"}
}
}
